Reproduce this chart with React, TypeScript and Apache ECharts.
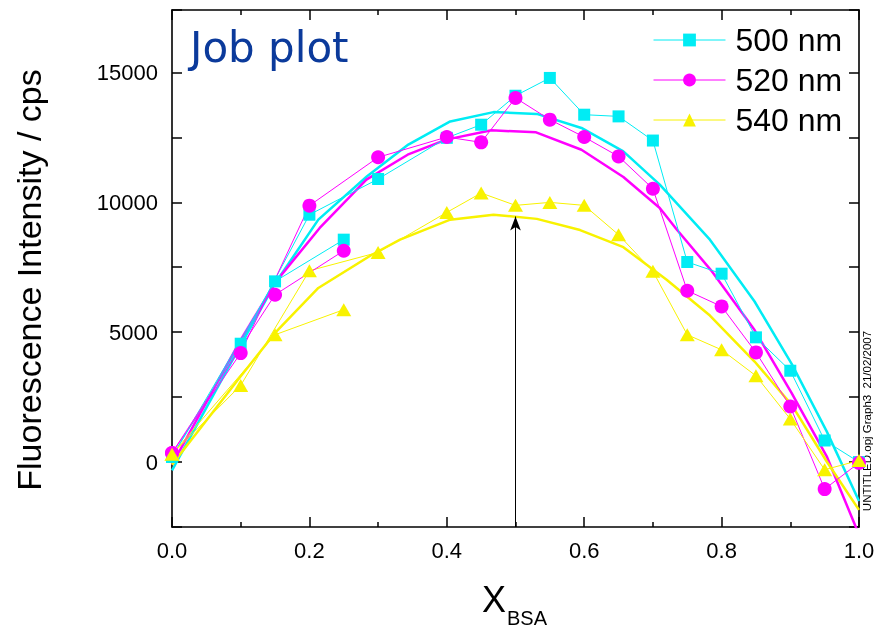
import React, { useEffect, useRef } from 'react';
import * as echarts from 'echarts';

// Measured points (main sequence)
const xMain = [0, 0.1, 0.2, 0.3, 0.4, 0.45, 0.5, 0.55, 0.6, 0.65, 0.7, 0.75, 0.8, 0.85, 0.9, 0.95, 1.0];
const y500 = [200, 4555, 9520, 10895, 12480, 12985, 14100, 14785, 13370, 13305, 12375, 7700, 7250, 4800, 3515, 830, 0];
const y520 = [350, 4195, 9870, 11730, 12510, 12305, 14015, 13180, 12510, 11765, 10520, 6595, 5990, 4220, 2140, -1040, -30];
const y540 = [300, 2950, 7365, 8070, 9610, 10355, 9880, 9995, 9880, 8750, 7340, 4900, 4320, 3320, 1655, -295, 60];

// Measured points (separate short sequence)
const xSide = [0, 0.15, 0.25];
const y500s = [200, 6955, 8560];
const y520s = [350, 6440, 8135];
const y540s = [300, 4900, 5865];

// Fitted curves
const fit500X = [0, 0.1, 0.15, 0.213, 0.284, 0.344, 0.405, 0.468, 0.531, 0.596, 0.657, 0.71, 0.783, 0.848, 0.902, 0.953, 1.0];
const fit500Y = [-320, 4500, 6870, 9330, 11000, 12220, 13110, 13470, 13400, 12860, 11960, 10680, 8560, 6180, 3780, 1180, -1500];
const fit520X = [0, 0.1, 0.15, 0.215, 0.283, 0.343, 0.399, 0.465, 0.53, 0.596, 0.657, 0.71, 0.735, 0.785, 0.848, 0.902, 0.953, 1.0];
const fit520Y = [-100, 4700, 6900, 9010, 10870, 11830, 12410, 12770, 12690, 12020, 10970, 9780, 8940, 7370, 5080, 2650, 220, -2800];
const fit540X = [0, 0.1, 0.15, 0.213, 0.291, 0.332, 0.405, 0.468, 0.531, 0.594, 0.657, 0.72, 0.783, 0.848, 0.902, 0.953, 1.0];
const fit540Y = [-100, 3300, 4970, 6700, 7980, 8560, 9330, 9520, 9360, 8930, 8270, 7020, 5640, 3870, 2200, 20, -1840];

// Arrow marking the maximum
const arrowX = 0.5;
const arrowY = [-2500, 9450];

const seriesNames = ['500 nm', '520 nm', '540 nm'];
const xTicks = { min: 0, max: 1, interval: 0.2 };
const yTicks = { min: -2500, max: 17400, interval: 2500, labelStep: 5000 };

const CYAN = '#00ECF4';
const MAGENTA = '#FF00FF';
const YELLOW = '#F8F200';

const pairs = (xs: number[], ys: number[]) => xs.map((x, i) => [x, ys[i]]);

export default function App() {
  const ref = useRef<HTMLDivElement>(null);
  useEffect(() => {
    document.body.style.margin = '0';
    const chart = echarts.init(ref.current!, undefined, { renderer: 'svg' });
    const axisLine = { show: true, onZero: false, lineStyle: { color: '#000', width: 1.6 } };
    const tick = { show: true, inside: true, length: 10, lineStyle: { color: '#000', width: 1.5 } };
    const minor = { show: true, splitNumber: 2, length: 5, lineStyle: { color: '#000', width: 1.5 } };
    const labelFont = { color: '#000', fontSize: 22, fontFamily: 'Liberation Sans, Arial, sans-serif' };

    const dataSeries = (name: string, xs: number[], ys: number[], color: string, symbol: string, size: any) => ({
      type: 'line',
      name,
      data: pairs(xs, ys),
      symbol,
      symbolSize: size,
      itemStyle: { color },
      lineStyle: { color, width: 1 },
      clip: true,
      z: 3,
    });
    const fitSeries = (name: string, xs: number[], ys: number[], color: string, extra: any = {}) => ({
      type: 'line',
      name,
      data: pairs(xs, ys),
      symbol: 'none',
      lineStyle: { color, width: 2.5 },
      itemStyle: { color },
      clip: true,
      z: 2,
      ...extra,
    });

    const option: any = {
      animation: false,
      grid: { left: 172, right: 21, top: 10, bottom: 102, outerBoundsMode: 'none' },
      legend: {
        data: seriesNames,
        orient: 'vertical',
        left: 648,
        top: 19,
        itemWidth: 72,
        itemHeight: 16,
        itemGap: 8,
        lineStyle: { width: 1 },
        textStyle: {
          color: '#000',
          fontSize: 32,
          lineHeight: 31,
          fontFamily: 'Liberation Sans, Arial, sans-serif',
          padding: [0, 0, 0, 5],
        },
        selectedMode: false,
      },
      xAxis: [
        {
          type: 'value', ...xTicks, position: 'bottom',
          axisLine, axisTick: tick, minorTick: minor,
          splitLine: { show: false }, minorSplitLine: { show: false },
          axisLabel: { ...labelFont, margin: 12, formatter: (v: number) => v.toFixed(1) },
        },
        {
          type: 'value', ...xTicks, position: 'top',
          axisLine, axisTick: tick, minorTick: minor,
          splitLine: { show: false }, minorSplitLine: { show: false },
          axisLabel: { show: false },
        },
      ],
      yAxis: [
        {
          type: 'value', min: yTicks.min, max: yTicks.max, interval: yTicks.interval, position: 'left',
          axisLine, axisTick: tick,
          splitLine: { show: false },
          axisLabel: {
            ...labelFont, margin: 14,
            formatter: (v: number) => (v % yTicks.labelStep === 0 ? String(v) : ''),
          },
        },
        {
          type: 'value', min: yTicks.min, max: yTicks.max, interval: yTicks.interval, position: 'right',
          axisLine, axisTick: tick,
          splitLine: { show: false },
          axisLabel: { show: false },
        },
      ],
      series: [
        fitSeries('fit 500', fit500X, fit500Y, CYAN),
        fitSeries('fit 520', fit520X, fit520Y, MAGENTA),
        fitSeries('fit 540', fit540X, fit540Y, YELLOW, {
          markLine: {
            silent: true,
            symbol: ['none', 'arrow'],
            symbolSize: [8, 14],
            label: { show: false },
            lineStyle: { color: '#000', width: 1, type: 'solid' },
            data: [[{ coord: [arrowX, arrowY[0]] }, { coord: [arrowX, arrowY[1]] }]],
          },
        }),
        dataSeries(seriesNames[0], xMain, y500, CYAN, 'rect', 12),
        dataSeries(seriesNames[1], xMain, y520, MAGENTA, 'circle', 14),
        dataSeries(seriesNames[2], xMain, y540, YELLOW, 'triangle', [15, 13]),
        dataSeries(seriesNames[0], xSide, y500s, CYAN, 'rect', 12),
        dataSeries(seriesNames[1], xSide, y520s, MAGENTA, 'circle', 14),
        dataSeries(seriesNames[2], xSide, y540s, YELLOW, 'triangle', [15, 13]),
      ],
      graphic: [
        {
          type: 'text', x: 190, y: 47,
          style: { text: 'Job plot', fontSize: 42, fontFamily: 'DejaVu Sans, sans-serif', fill: '#0B3A9B', align: 'left', verticalAlign: 'middle' },
        },
        {
          type: 'text', x: 29, y: 280, rotation: Math.PI / 2,
          style: { text: 'Fluorescence Intensity / cps', fontSize: 34, fontFamily: 'Liberation Sans, Arial, sans-serif', fill: '#000', align: 'center', verticalAlign: 'middle' },
        },
        {
          type: 'text', x: 494, y: 599,
          style: { text: 'X', fontSize: 36, fontFamily: 'Liberation Sans, Arial, sans-serif', fill: '#000', align: 'center', verticalAlign: 'middle' },
        },
        {
          type: 'text', x: 507, y: 618,
          style: { text: 'BSA', fontSize: 20, fontFamily: 'Liberation Sans, Arial, sans-serif', fill: '#000', align: 'left', verticalAlign: 'middle' },
        },
        {
          type: 'text', x: 867, y: 421, rotation: Math.PI / 2,
          style: { text: 'UNTITLED.opj Graph3  21/02/2007', fontSize: 11.5, fontFamily: 'Liberation Sans, Arial, sans-serif', fill: '#000', align: 'center', verticalAlign: 'middle' },
        },
      ],
    };
    chart.setOption(option);
    return () => chart.dispose();
  }, []);
  return <div ref={ref} style={{ position: 'fixed', left: 0, top: 0, width: 880, height: 629 }} />;
}
